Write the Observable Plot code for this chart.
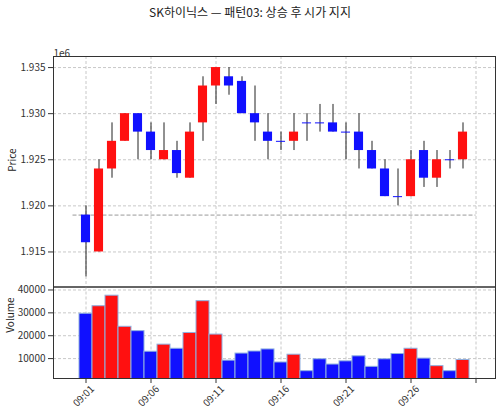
<!DOCTYPE html>
<html><head><meta charset="utf-8">
<script src="https://cdn.jsdelivr.net/npm/d3@7"></script>
<script src="https://cdn.jsdelivr.net/npm/@observablehq/plot@0.6"></script>
<style>
body{margin:0;background:#fff;font-family:"Noto Sans CJK KR",sans-serif;}
#wrap{position:relative;width:500px;height:416px;overflow:hidden;background:#fff;}
#title{position:absolute;top:3px;left:0;width:500px;text-align:center;font-size:12px;color:#222;}
#price{position:absolute;top:40px;left:0;}
#vol{position:absolute;top:283px;left:0;}
#wrap svg{overflow:visible;}
</style></head><body>
<div id="wrap">
  <div id="title">SK하이닉스 — 패턴03: 상승 후 시가 지지</div>
  <div id="price"></div>
  <div id="vol"></div>
</div>
<script>
const times = ["09:01","09:02","09:03","09:04","09:05","09:06","09:07","09:08","09:09","09:10",
  "09:11","09:12","09:13","09:14","09:15","09:16","09:17","09:18","09:19","09:20",
  "09:21","09:22","09:23","09:24","09:25","09:26","09:27","09:28","09:29","09:30"];
const opens  = [1919000,1915000,1924000,1927000,1930000,1928000,1925000,1926000,1923000,1929000,
  1933000,1934000,1933500,1930000,1928000,1927000,1927000,1929000,1929000,1929000,
  1928000,1928000,1926000,1924000,1921000,1921000,1926000,1923000,1925000,1925000];
const closes = [1916000,1924000,1927000,1930000,1928000,1926000,1926000,1923500,1928000,1933000,
  1935000,1933000,1930000,1929000,1927000,1927000,1928000,1929000,1929000,1928000,
  1928000,1926000,1924000,1921000,1921000,1925000,1923000,1925000,1925000,1928000];
const highs  = [1920000,1925000,1929000,1930000,1930000,1929000,1929000,1927000,1929000,1934000,
  1935000,1935000,1934000,1933000,1930000,1928000,1930000,1930000,1931000,1931000,
  1929000,1930000,1927000,1925000,1924000,1926000,1927000,1926000,1926000,1929000];
const lows   = [1912300,1915000,1923000,1927000,1925000,1925000,1925000,1923000,1923000,1927000,
  1931000,1932000,1930000,1927000,1925000,1926000,1926000,1927000,1928000,1928000,
  1925000,1924000,1924000,1921000,1920000,1921000,1922000,1922000,1924000,1924000];
const volumes = [29600,32900,37500,23900,22000,13000,16100,14300,21200,35100,
  20500,9100,12200,13100,14000,8300,11700,4500,9700,7400,
  8800,11000,6400,9700,12000,14300,10000,6700,4500,9400];
const priceTicks = [1915000,1920000,1925000,1930000,1935000];
const volTicks = [10000,20000,30000,40000];
const xTicks = [0,5,10,15,20,25,30];
const support = opens[0];

const UP = "#ff1010", DOWN = "#1010ff";
const data = times.map((t,i)=>({i, t, open:opens[i], close:closes[i], high:highs[i], low:lows[i], vol:volumes[i],
  color: closes[i] > opens[i] ? UP : DOWN}));
const bodies = data.filter(d=>d.open !== d.close);
const flats = data.filter(d=>d.open === d.close);
const xDomain = [-2.5, 31.5];
const font = '"Noto Sans CJK KR", sans-serif';
const gridStyle = {stroke:"#c8c8c8", strokeOpacity:1, strokeDasharray:"3,2"};

const price = Plot.plot({
  width:500, height:250, marginTop:16, marginBottom:3.5, marginLeft:53, marginRight:5,
  style:{fontFamily:font, fontSize:"10px", color:"#333", background:"transparent"},
  x:{domain:xDomain, axis:null},
  y:{domain:[1911200,1936200], label:null},
  marks:[
    Plot.gridX({ticks:xTicks, ...gridStyle}),
    Plot.gridY({ticks:priceTicks, ...gridStyle}),
    Plot.axisY({ticks:priceTicks, tickFormat:d=>(d/1e6).toFixed(3), tickSize:5, tickPadding:3, label:null}),
    Plot.ruleY([{y:support, x1:-1, x2:times.length}], {y:"y", x1:"x1", x2:"x2", stroke:"#9a9a9a", strokeDasharray:"4,2", strokeWidth:1}),
    Plot.ruleX(data, {x:"i", y1:"low", y2:"high", stroke:"#222", strokeWidth:1}),
    Plot.rect(bodies, {x1:d=>d.i-0.35, x2:d=>d.i+0.35, y1:"open", y2:"close", fill:"color"}),
    Plot.ruleY(flats, {y:"open", x1:d=>d.i-0.35, x2:d=>d.i+0.35, stroke:DOWN, strokeWidth:1}),
    Plot.frame({stroke:"#333"}),
    Plot.text(["1e6"], {frameAnchor:"top-left", dy:-7, textAnchor:"start", fill:"#333", fontSize:10}),
    Plot.text(["Price"], {frameAnchor:"left", dx:-41, rotate:-90, fill:"#222", fontSize:10})
  ]
});
document.getElementById("price").appendChild(price);

const vol = Plot.plot({
  width:500, height:133, marginTop:3.5, marginBottom:38, marginLeft:53, marginRight:5,
  style:{fontFamily:font, fontSize:"10px", color:"#333", background:"transparent"},
  x:{domain:xDomain, axis:null},
  y:{domain:[1300,41300], label:null},
  marks:[
    Plot.gridX({ticks:xTicks, ...gridStyle}),
    Plot.gridY({ticks:volTicks, ...gridStyle}),
    Plot.axisY({ticks:volTicks, tickFormat:d=>String(d), tickSize:5, tickPadding:3, label:null}),
    Plot.rect(data, {x1:d=>d.i-0.5, x2:d=>d.i+0.5, y1:0, y2:"vol", fill:"color", stroke:"#8fb0e0", strokeWidth:1, clip:true}),
    Plot.axisX({ticks:xTicks, tickFormat:()=>"", tickSize:5, label:null}),
    Plot.text(data.filter(d=>d.i%5===0), {x:"i", text:"t", frameAnchor:"bottom", dy:20, rotate:-45, textAnchor:"middle", fill:"#333", fontSize:10}),
    Plot.frame({stroke:"#333"}),
    Plot.text(["Volume"], {frameAnchor:"left", dx:-43, rotate:-90, fill:"#222", fontSize:10})
  ]
});
document.getElementById("vol").appendChild(vol);
</script>
</body></html>
